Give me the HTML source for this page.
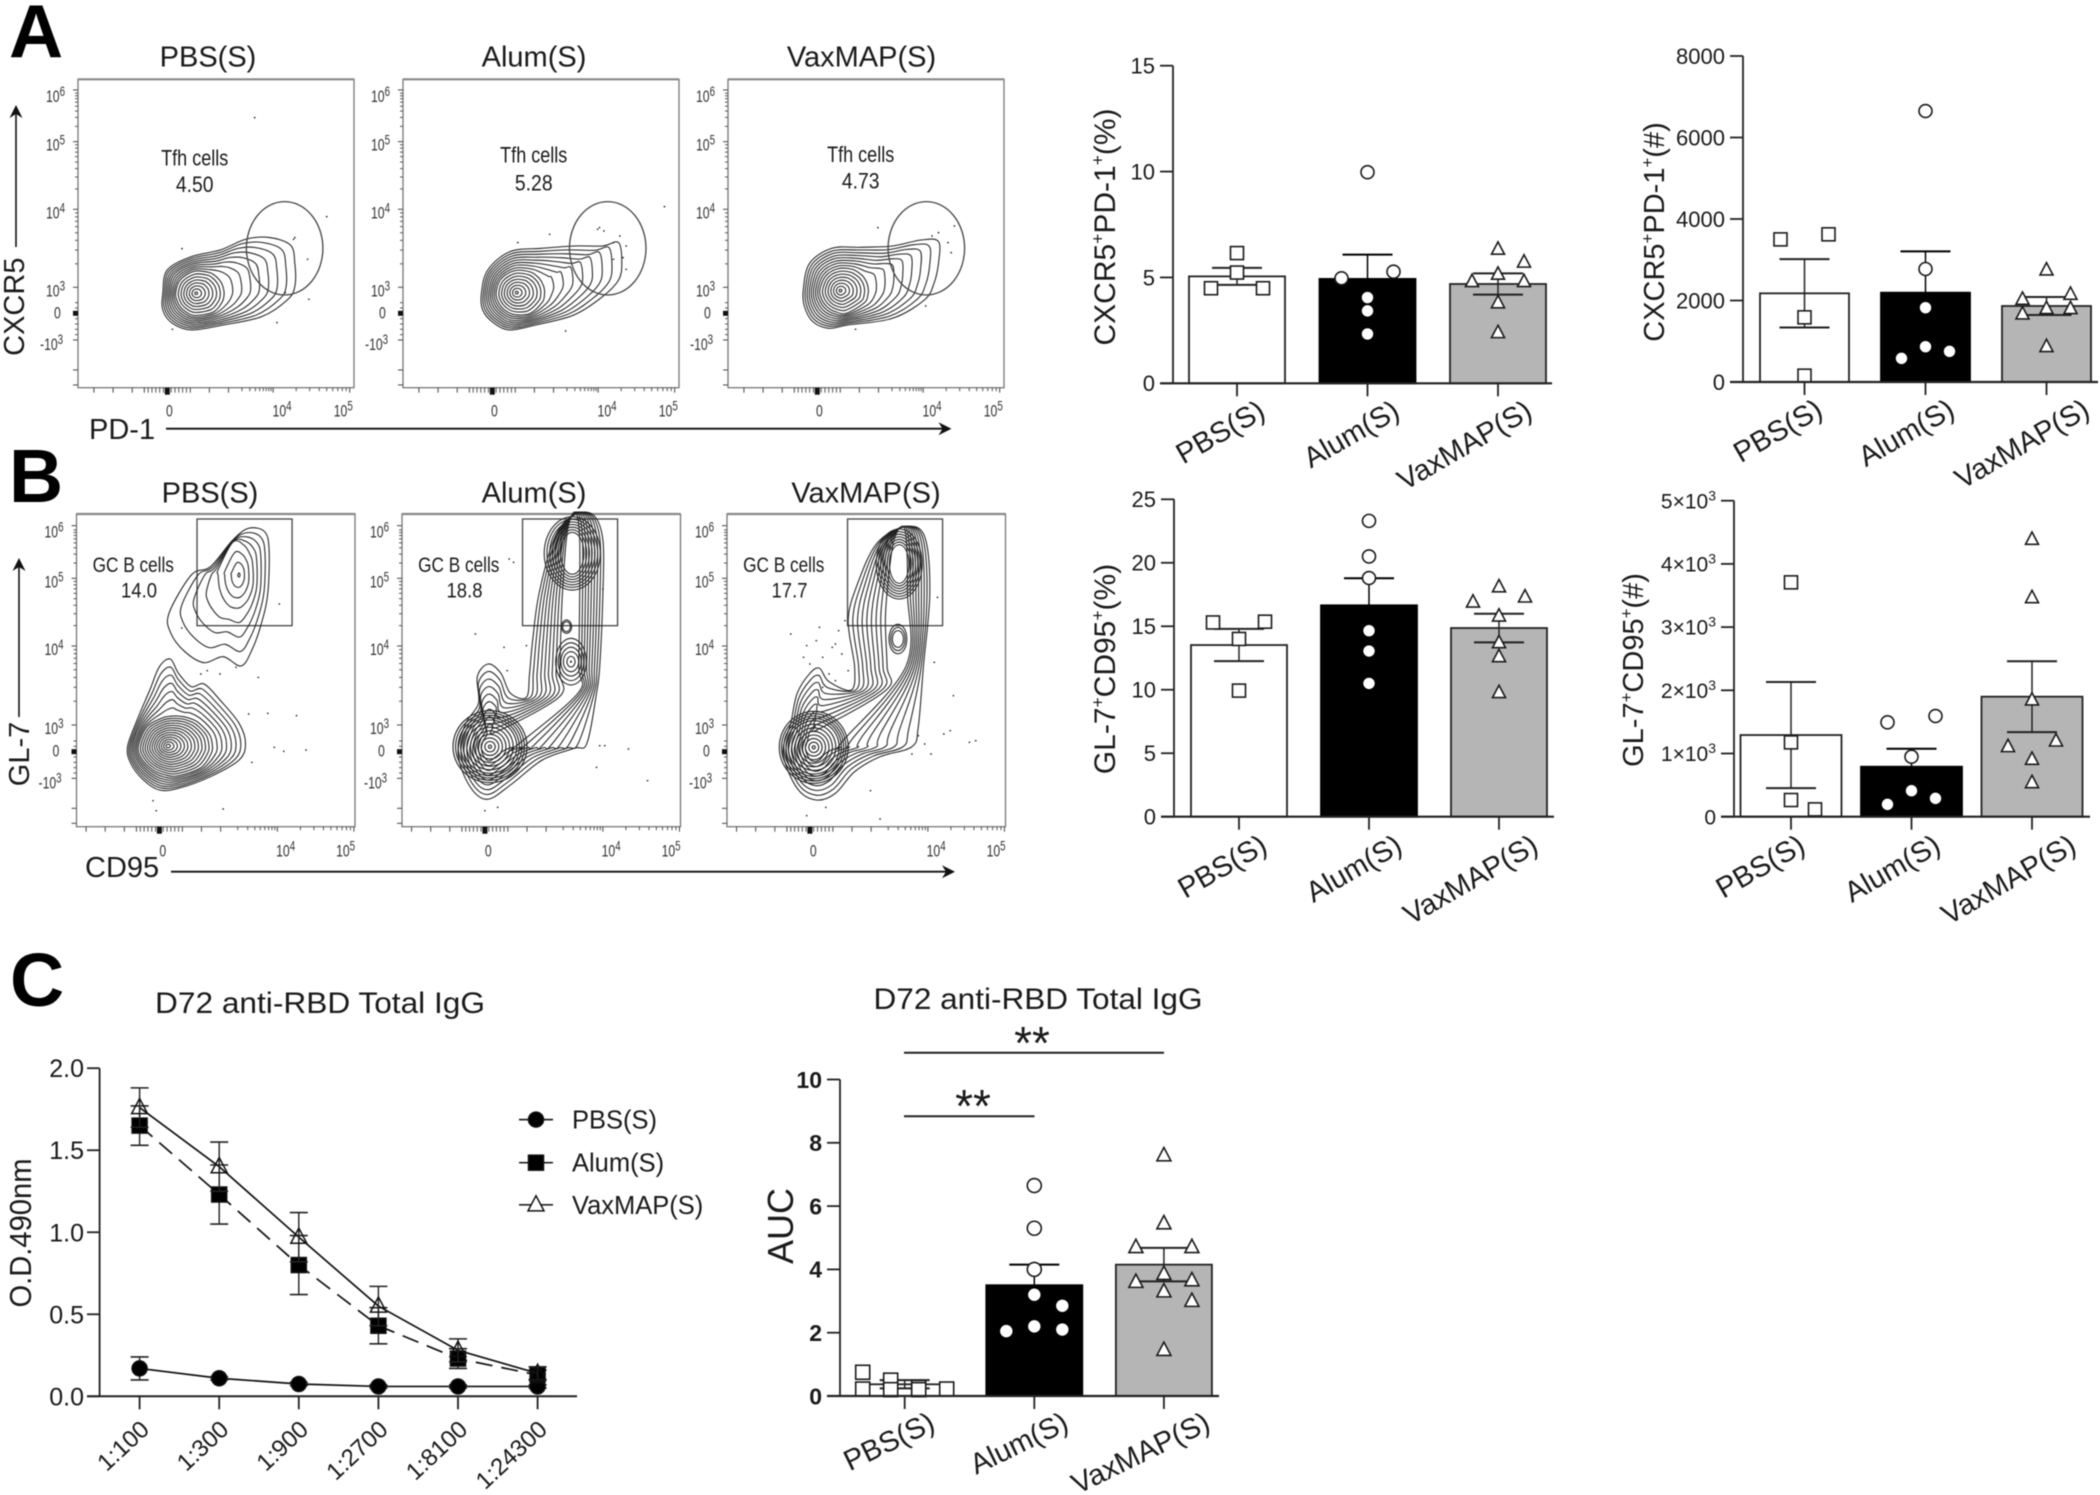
<!DOCTYPE html>
<html lang="en">
<head>
<meta charset="utf-8">
<title>Tfh and GC B cell responses</title>
<style>
html,body{margin:0;padding:0;background:#fff;}
#figure{display:block;width:2100px;height:1495px;filter:blur(.45px);font-family:"Liberation Sans",sans-serif;}
text{font-family:"Liberation Sans",sans-serif;fill:#1a1a1a;}
</style>
</head>
<body>
<svg id="figure" xmlns="http://www.w3.org/2000/svg" width="2100" height="1495" viewBox="0 0 2100 1495">
<rect width="2100" height="1495" fill="#fff"/>
<text x="9" y="57" font-size="75" font-weight="700" style="fill:#000">A</text>
<text x="9" y="502" font-size="75" font-weight="700" style="fill:#000">B</text>
<text x="10" y="1006" font-size="75" font-weight="700" style="fill:#000">C</text>
</svg>
<script>
/* ---------- chart values ---------- */
const groupLabels = ['PBS(S)', 'Alum(S)', 'VaxMAP(S)'];

const tfhPctTicks = [0, 5, 10, 15];
const tfhPctMeans = [5.05, 4.93, 4.69];
const tfhPctSem = [0.4, 1.15, 0.5];
const tfhPctPbs = [6.15, 5.23, 4.49, 4.49];
const tfhPctAlum = [9.97, 5.27, 4.96, 4.05, 3.42, 2.33];
const tfhPctVax = [6.33, 5.72, 5.15, 4.8, 4.8, 3.8, 2.39];

const tfhCountTicks = [0, 2000, 4000, 6000, 8000];
const tfhCountMeans = [2176, 2192, 1865];
const tfhCountSem = [840, 1015, 220];
const tfhCountPbs = [3624, 3500, 1587, 155];
const tfhCountAlum = [6650, 2773, 1824, 867, 752, 580];
const tfhCountVax = [2748, 2151, 2029, 1800, 1800, 1668, 867];

const gcPctTicks = [0, 5, 10, 15, 20, 25];
const gcPctMeans = [13.52, 16.65, 14.86];
const gcPctSem = [1.27, 2.13, 1.13];
const gcPctPbs = [15.36, 15.3, 14.0, 9.93];
const gcPctAlum = [23.3, 20.5, 18.8, 14.65, 13.05, 10.5];
const gcPctVax = [18.1, 17.3, 16.9, 15.8, 13.7, 12.6, 9.77];

const gcCountTicks = [0, 1000, 2000, 3000, 4000, 5000];
const gcCountTickLabels = ['0', '1×10', '2×10', '3×10', '4×10', '5×10'];
const gcCountMeans = [1292, 791, 1899];
const gcCountSem = [840, 285, 560];
const gcCountPbs = [3708, 1176, 264, 116];
const gcCountAlum = [1593, 1493, 949, 411, 290, 195];
const gcCountVax = [4388, 3465, 1846, 1197, 1108, 907, 538];

const aucTicks = [0, 2, 4, 6, 8, 10];
const aucMeans = [0.37, 3.5, 4.15];
const aucSem = [0.13, 0.65, 0.53];
const aucPbs = [0.75, 0.5, 0.27, 0.22, 0.22, 0.2, 0.2];
const aucAlum = [6.65, 5.3, 4.0, 3.2, 2.85, 2.2, 2.1, 2.05];
const aucVax = [7.6, 5.45, 4.7, 4.7, 3.85, 3.65, 3.6, 3.3, 3.0, 1.45];

const dilutions = ['1:100', '1:300', '1:900', '1:2700', '1:8100', '1:24300'];
const odTicks = [0, 0.5, 1, 1.5, 2];
const odTickLabels = ['0.0', '0.5', '1.0', '1.5', '2.0'];
const odPbs = [0.17, 0.11, 0.075, 0.06, 0.06, 0.06];
const odPbsErr = [0.07, 0.01, 0.01, 0.01, 0.01, 0.01];
const odAlum = [1.65, 1.23, 0.8, 0.43, 0.23, 0.13];
const odAlumErr = [0.12, 0.18, 0.18, 0.11, 0.06, 0.03];
const odVax = [1.76, 1.4, 0.97, 0.55, 0.28, 0.14];
const odVaxErr = [0.12, 0.15, 0.15, 0.12, 0.07, 0.04];

/* flow-cytometry outlines and events, in cytometer channel units */
const tfhPbsContour = [[133,642],[140,572],[178,532],[223,512],[263,480],[298,474],[333,497],[340,552],[340,622],[328,662],[288,712],[228,737],[178,752],[148,732],[133,692]];
const tfhAlumContour = [[123,642],[133,572],[168,517],[218,507],[268,500],[313,500],[338,490],[343,552],[338,602],[313,652],[268,707],[208,737],[168,752],[143,732],[125,692]];
const tfhVaxContour = [[118,632],[128,552],[163,507],[208,504],[258,500],[303,482],[330,487],[330,552],[323,612],[308,662],[258,717],[188,737],[158,747],[133,727],[120,682]];
const gcPbsLowerContour = [[80,698],[95,618],[115,528],[130,458],[147,435],[160,478],[180,518],[200,510],[225,558],[255,628],[265,688],[255,738],[210,788],[160,823],[130,828],[105,798],[85,748]];
const gcPbsUpperContour = [[145,298],[180,183],[210,158],[245,78],[270,43],[295,53],[302,108],[300,238],[290,328],[275,408],[258,456],[230,428],[200,446],[170,413],[148,358]];
const gcAlumContour = [[133,856],[105,813],[88,718],[100,628],[120,568],[118,488],[135,450],[155,478],[170,538],[195,550],[200,478],[205,378],[215,238],[240,68],[270,3],[300,3],[315,78],[315,238],[310,458],[305,538],[290,688],[270,703],[220,738],[170,813]];
const gcVaxContour = [[140,858],[110,823],[88,718],[100,628],[110,538],[130,478],[145,463],[160,503],[195,528],[200,458],[190,318],[205,208],[235,88],[280,38],[310,68],[318,238],[308,458],[300,638],[290,698],[240,728],[200,773],[170,838]];
const tfhPbsEvents = [[277,115],[390,412],[163,508],[338,480],[362,660],[312,730],[360,540],[340,475],[148,750],[325,640]];
const tfhAlumEvents = [[410,382],[305,450],[315,455],[308,445],[330,490],[340,470],[350,500],[330,540],[345,535],[350,570],[255,755],[180,490],[230,465]];
const tfhVaxEvents = [[235,445],[320,470],[345,490],[350,520],[310,680],[200,750],[330,460],[355,440]];
const gcPbsEvents = [[165,342],[195,480],[205,470],[225,480],[250,460],[285,490],[300,598],[345,605],[360,708],[310,700],[325,712],[125,890],[230,885],[120,860],[270,600],[318,270],[275,745]];
const gcAlumEvents = [[115,360],[175,145],[168,135],[165,470],[160,400],[195,395],[310,695],[318,695],[355,705],[305,760],[385,800],[130,890],[150,880],[315,225]];
const gcVaxEvents = [[100,360],[120,430],[130,450],[150,430],[165,400],[175,350],[185,320],[140,380],[160,480],[170,500],[180,420],[145,340],[125,395],[190,470],[150,520],[170,390],[330,250],[325,445],[355,545],[340,660],[350,650],[380,685],[390,680],[300,665],[310,690],[290,720],[320,720],[155,880],[125,905],[225,830],[240,915]];

/* ---------- helpers ---------- */
const SVGNS = 'http://www.w3.org/2000/svg';
const root = document.getElementById('figure');

function mk(parent, tag, attrs, name, interactable) {
  const el = document.createElementNS(SVGNS, tag);
  for (const k in attrs) el.setAttribute(k, attrs[k]);
  
  
  parent.appendChild(el);
  return el;
}
function txt(parent, str, attrs, name) {
  const el = mk(parent, 'text', attrs, name, false);
  el.textContent = str;
  return el;
}
/* text with superscript parts: parts = [['CXCR5',0],['+',1],...] */
function supText(parent, parts, attrs, name, supSize, rise) {
  const el = mk(parent, 'text', attrs, name, false);
  let up = false;
  parts.forEach(function (p) {
    const t = document.createElementNS(SVGNS, 'tspan');
    t.textContent = p[0];
    if (p[1]) {
      t.setAttribute('font-size', supSize);
      t.setAttribute('dy', -rise);
      up = true;
    } else if (up) {
      t.setAttribute('dy', rise);
      up = false;
    }
    el.appendChild(t);
  });
  return el;
}
function line(parent, x1, y1, x2, y2, stroke, width, name, dash) {
  const a = {x1: x1, y1: y1, x2: x2, y2: y2, stroke: stroke, 'stroke-width': width};
  if (dash) a['stroke-dasharray'] = dash;
  return mk(parent, 'line', a, name, false);
}
function marker(parent, kind, x, y, size, fill, stroke, sw, name) {
  if (kind === 'circle') {
    return mk(parent, 'circle', {cx: x, cy: y, r: size / 2, fill: fill, stroke: stroke, 'stroke-width': sw}, name, false);
  }
  if (kind === 'square') {
    return mk(parent, 'rect', {x: x - size / 2, y: y - size / 2, width: size, height: size, fill: fill, stroke: stroke, 'stroke-width': sw}, name, false);
  }
  const h = size * 0.95;
  const pts = (x) + ',' + (y - h * 0.6) + ' ' + (x + size / 2) + ',' + (y + h * 0.4) + ' ' + (x - size / 2) + ',' + (y + h * 0.4);
  return mk(parent, 'polygon', {points: pts, fill: fill, stroke: stroke, 'stroke-width': sw, 'stroke-linejoin': 'miter'}, name, false);
}

/* Column placement similar to a scatter-dot plot: nearby values share a row. */
function swarmColumns(values, pxPerUnit) {
  const order = values.map(function (v, i) { return [v, i]; }).sort(function (a, b) { return b[0] - a[0]; });
  const rows = [];
  order.forEach(function (o) {
    const last = rows[rows.length - 1];
    if (last && (last[last.length - 1][0] - o[0]) * pxPerUnit < 8) last.push(o);
    else rows.push([o]);
  });
  const placed = [];
  const cols = new Array(values.length);
  rows.forEach(function (row) {
    const n = row.length;
    row.forEach(function (o, k) {
      let c;
      if (n > 5) c = [-1.5, -0.5, 0.5, 1.5][k % 4];
      else if (n % 2 === 0) c = (k % 2 === 0 ? 1 : -1) * (Math.floor(k / 2) + 1);
      else c = k === 0 ? 0 : (k % 2 === 1 ? 1 : -1) * Math.ceil(k / 2);
      if (n === 1) {
        const hit = placed.some(function (p) { return p[1] === c && (p[0] - o[0]) * pxPerUnit < 13; });
        if (hit) c = 1;
      }
      placed.push([o[0], c]);
      cols[o[1]] = c;
    });
  });
  return cols;
}

/* ---------- bar charts ---------- */
const barFills = ['#ffffff', '#000000', '#b5b5b5'];
const markerKinds = ['square', 'circle', 'triangle'];

function drawBarChart(cfg) {
  const g = mk(root, 'g', {}, cfg.name, false);
  const y = function (v) { return cfg.yBase - v / cfg.max * (cfg.yBase - cfg.yTop); };
  const xc = function (i) { return cfg.center0 + i * cfg.step; };
  const pxPerUnit = (cfg.yBase - cfg.yTop) / cfg.max;

  cfg.means.forEach(function (m, i) {
    const top = y(m);
    mk(g, 'rect', {x: xc(i) - cfg.barW / 2, y: top, width: cfg.barW, height: cfg.yBase - top, fill: barFills[i], stroke: i === 1 ? '#000' : '#222', 'stroke-width': 1.8}, 'bar-' + groupLabels[i].toLowerCase().replace(/[()]/g, ''), false);
  });
  cfg.means.forEach(function (m, i) {
    const hi = y(m + cfg.sem[i]);
    const lo = y(m - cfg.sem[i]);
    const col = i === 1 ? '#000' : '#222';
    line(g, xc(i), hi, xc(i), lo, col, 1.5, 'error-stem');
    line(g, xc(i) - 25, hi, xc(i) + 25, hi, col, 2, 'error-cap-upper');
    line(g, xc(i) - 25, lo, xc(i) + 25, lo, col, 2, 'error-cap-lower');
  });
  cfg.points.forEach(function (vals, i) {
    const cols = swarmColumns(vals, pxPerUnit);
    vals.forEach(function (v, k) {
      const fill = '#fff';
      const stroke = i === 1 && v < cfg.means[1] ? '#000' : '#1a1a1a';
      marker(g, markerKinds[i], xc(i) + cols[k] * cfg.slot, y(v), cfg.markerSize, fill, stroke, 1.6, 'data-point');
    });
  });

  line(g, cfg.axisX, cfg.yTop, cfg.axisX, cfg.yBase, '#222', 1.8, 'y-axis-line');
  line(g, cfg.axisX - 13, cfg.yBase, cfg.xEnd, cfg.yBase, '#222', 2.2, 'x-axis-line');
  cfg.ticks.forEach(function (t, i) {
    line(g, cfg.axisX - 13, y(t), cfg.axisX, y(t), '#222', 1.8, 'y-tick');
    const a = {x: cfg.axisX - 18, y: y(t) + cfg.tickSize * 0.36, 'font-size': cfg.tickSize, 'text-anchor': 'end'};
    if (cfg.boldTicks) a['font-weight'] = '700';
    if (cfg.tickLabels) {
      const lab = cfg.tickLabels[i];
      if (lab.indexOf('×') >= 0) supText(g, [[lab, 0], ['3', 1]], a, 'y-tick-label', 14, 8);
      else txt(g, lab, a, 'y-tick-label');
    } else {
      txt(g, String(t), a, 'y-tick-label');
    }
  });
  groupLabels.forEach(function (lab, i) {
    line(g, xc(i), cfg.yBase, xc(i), cfg.yBase + 13, '#222', 1.8, 'x-tick');
    const ax = xc(i) + cfg.labelDx + cfg.labelShift[i];
    const ay = cfg.yBase + cfg.labelDy;
    txt(g, lab, {x: 0, y: 0, 'font-size': cfg.labelSize, 'text-anchor': 'end', transform: 'translate(' + ax + ',' + ay + ') rotate(' + cfg.labelAngle + ')'}, 'x-tick-label');
  });
  const lx = cfg.yLabel.x;
  const ly = cfg.yLabel.y;
  supText(g, cfg.yLabel.parts, {x: 0, y: 0, 'font-size': cfg.yLabel.size, 'text-anchor': 'middle', transform: 'translate(' + lx + ',' + ly + ') rotate(-90)'}, 'y-axis-title', cfg.yLabel.size * 0.58, cfg.yLabel.size * 0.38);
  return g;
}

drawBarChart({name: 'chart-tfh-percent', axisX: 1173, yTop: 65.7, yBase: 383.3, max: 15, xEnd: 1552, center0: 1237, step: 130.5, barW: 96, slot: 26, markerSize: 13,
  ticks: tfhPctTicks, tickSize: 22, means: tfhPctMeans, sem: tfhPctSem, points: [tfhPctPbs, tfhPctAlum, tfhPctVax],
  labelSize: 29, labelAngle: -30, labelDx: 30, labelDy: 33, labelShift: [0, 4, 6],
  yLabel: {x: 1115, y: 227, size: 30, parts: [['CXCR5', 0], ['+', 1], ['PD-1', 0], ['+', 1], ['(%)', 0]]}});
drawBarChart({name: 'chart-tfh-count', axisX: 1743, yTop: 56, yBase: 382, max: 8000, xEnd: 2098, center0: 1804.5, step: 121, barW: 89, slot: 24, markerSize: 13,
  ticks: tfhCountTicks, tickSize: 22, means: tfhCountMeans, sem: tfhCountSem, points: [tfhCountPbs, tfhCountAlum, tfhCountVax],
  labelSize: 29, labelAngle: -30, labelDx: 30, labelDy: 33, labelShift: [-10, 1, 15],
  yLabel: {x: 1664, y: 232, size: 29, parts: [['CXCR5', 0], ['+', 1], ['PD-1', 0], ['+', 1], ['(#)', 0]]}});
drawBarChart({name: 'chart-gc-percent', axisX: 1174, yTop: 499.3, yBase: 816.7, max: 25, xEnd: 1554, center0: 1239, step: 130, barW: 96, slot: 26, markerSize: 13,
  ticks: gcPctTicks, tickSize: 22, means: gcPctMeans, sem: gcPctSem, points: [gcPctPbs, gcPctAlum, gcPctVax],
  labelSize: 29, labelAngle: -30, labelDx: 30, labelDy: 34, labelShift: [0, 5, 11],
  yLabel: {x: 1115, y: 669, size: 30, parts: [['GL-7', 0], ['+', 1], ['CD95', 0], ['+', 1], ['(%)', 0]]}});
drawBarChart({name: 'chart-gc-count', axisX: 1734, yTop: 500.7, yBase: 816.7, max: 5000, xEnd: 2090, center0: 1791, step: 120.5, barW: 101, slot: 24, markerSize: 13,
  ticks: gcCountTicks, tickLabels: gcCountTickLabels, tickSize: 21, means: gcCountMeans, sem: gcCountSem, points: [gcCountPbs, gcCountAlum, gcCountVax],
  labelSize: 29, labelAngle: -30, labelDx: 30, labelDy: 34, labelShift: [-14, 1, 16],
  yLabel: {x: 1643, y: 670, size: 29, parts: [['GL-7', 0], ['+', 1], ['CD95', 0], ['+', 1], ['(#)', 0]]}});
drawBarChart({name: 'chart-auc', axisX: 840, yTop: 1079.5, yBase: 1396, max: 10, xEnd: 1219, center0: 904.7, step: 129.6, barW: 96, slot: 28, markerSize: 14,
  ticks: aucTicks, tickSize: 23, boldTicks: true, means: aucMeans, sem: aucSem, points: [aucPbs, aucAlum, aucVax],
  labelSize: 29, labelAngle: -26, labelDx: 30, labelDy: 33, labelShift: [2, 6, 18],
  yLabel: {x: 793, y: 1226, size: 36, parts: [['AUC', 0]]}});

const aucExtras = mk(root, 'g', {}, 'auc-annotations', false);
txt(aucExtras, 'D72 anti-RBD Total IgG', {x: 1038, y: 1009, 'font-size': 30, 'text-anchor': 'middle', textLength: 329, lengthAdjust: 'spacingAndGlyphs'}, 'auc-chart-title');
line(aucExtras, 904, 1052.7, 1164, 1052.7, '#222', 2, 'significance-bar-pbs-vaxmap');
line(aucExtras, 904, 1116.3, 1034.5, 1116.3, '#222', 2, 'significance-bar-pbs-alum');
txt(aucExtras, '**', {x: 1032, y: 1059, 'font-size': 46, 'text-anchor': 'middle'}, 'significance-stars-pbs-vaxmap');
txt(aucExtras, '**', {x: 973, y: 1122, 'font-size': 46, 'text-anchor': 'middle'}, 'significance-stars-pbs-alum');

/* ---------- dilution line chart ---------- */
(function () {
  const g = mk(root, 'g', {}, 'chart-od-dilution', false);
  const axisX = 99.6;
  const yTop = 1068.2;
  const yBase = 1396.3;
  const x = function (i) { return 139.6 + i * 79.6; };
  const y = function (v) { return yBase - v / 2 * (yBase - yTop); };

  txt(g, 'D72 anti-RBD Total IgG', {x: 320, y: 1013, 'font-size': 30, 'text-anchor': 'middle', textLength: 330, lengthAdjust: 'spacingAndGlyphs'}, 'line-chart-title');
  line(g, axisX, yTop, axisX, yBase, '#222', 1.8, 'y-axis-line');
  line(g, 87, yBase, 577, yBase, '#222', 2, 'x-axis-line');
  odTicks.forEach(function (t, i) {
    line(g, 87, y(t), axisX, y(t), '#222', 1.8, 'y-tick');
    txt(g, odTickLabels[i], {x: 84, y: y(t) + 9, 'font-size': 25, 'text-anchor': 'end'}, 'y-tick-label');
  });
  dilutions.forEach(function (d, i) {
    line(g, x(i), yBase, x(i), yBase + 13, '#222', 1.8, 'x-tick');
    const ax = x(i) + 11;
    const ay = yBase + 35;
    txt(g, d, {x: 0, y: 0, 'font-size': 24, 'text-anchor': 'end', transform: 'translate(' + ax + ',' + ay + ') rotate(-43)'}, 'x-tick-label');
  });
  txt(g, 'O.D.490nm', {x: 0, y: 0, 'font-size': 31, 'text-anchor': 'middle', textLength: 149, lengthAdjust: 'spacingAndGlyphs', transform: 'translate(31,1233) rotate(-90)'}, 'y-axis-title');

  const series = [
    {name: 'pbs', vals: odPbs, err: odPbsErr, kind: 'circle', size: 15, fill: '#000', dash: null},
    {name: 'alum', vals: odAlum, err: odAlumErr, kind: 'square', size: 15, fill: '#000', dash: '17 9'},
    {name: 'vaxmap', vals: odVax, err: odVaxErr, kind: 'triangle', size: 16, fill: 'none', dash: null}
  ];
  series.forEach(function (s) {
    const sg = mk(g, 'g', {}, 'series-' + s.name, false);
    const a = {points: s.vals.map(function (v, i) { return x(i) + ',' + y(v); }).join(' '), fill: 'none', stroke: '#111', 'stroke-width': 1.7};
    if (s.dash) a['stroke-dasharray'] = s.dash;
    mk(sg, 'polyline', a, 'series-line', false);
    s.vals.forEach(function (v, i) {
      const hi = y(v + s.err[i]);
      const lo = y(v - s.err[i]);
      line(sg, x(i), hi, x(i), lo, '#222', 1.4, 'error-stem');
      line(sg, x(i) - 9, hi, x(i) + 9, hi, '#222', 1.6, 'error-cap-upper');
      line(sg, x(i) - 9, lo, x(i) + 9, lo, '#222', 1.6, 'error-cap-lower');
      marker(sg, s.kind, x(i), y(v), s.size, s.fill, '#111', 1.5, 'series-point');
    });
  });

  const legendYs = [1119.6, 1162.7, 1204.8];
  series.forEach(function (s, i) {
    const lg = mk(g, 'g', {}, 'legend-entry-' + s.name, false);
    line(lg, 519, legendYs[i], 553, legendYs[i], '#222', 1.7, 'legend-line');
    marker(lg, s.kind, 536, legendYs[i], s.size, s.fill === 'none' ? '#fff' : s.fill, '#111', 1.5, 'legend-marker');
    txt(lg, groupLabels[i], {x: 572, y: legendYs[i] + 9, 'font-size': 25.5}, 'legend-label');
  });
})();

/* ---------- flow cytometry panels ---------- */
const FX = 1.568;
const FY = 3;

function lerp(a, b, t) { return [a[0] + (b[0] - a[0]) * t, a[1] + (b[1] - a[1]) * t]; }
function towardEllipse(outer, c, rx, ry) {
  return outer.map(function (p) {
    const dx = p[0] - c[0];
    const dy = p[1] - c[1];
    const k = 1 / Math.sqrt(dx * dx / (rx * rx) + dy * dy / (ry * ry));
    return [c[0] + dx * k, c[1] + dy * k];
  });
}
function ringPoints(c, rx, ry, n) {
  const out = [];
  for (let i = 0; i < n; i++) {
    const a = i / n * Math.PI * 2;
    out.push([c[0] + rx * Math.cos(a), c[1] + ry * Math.sin(a)]);
  }
  return out;
}
function closedSpline(pts) {
  const n = pts.length;
  let d = 'M' + pts[0][0].toFixed(1) + ' ' + pts[0][1].toFixed(1);
  for (let i = 0; i < n; i++) {
    const p0 = pts[(i - 1 + n) % n];
    const p1 = pts[i];
    const p2 = pts[(i + 1) % n];
    const p3 = pts[(i + 2) % n];
    const c1x = p1[0] + (p2[0] - p0[0]) / 6;
    const c1y = p1[1] + (p2[1] - p0[1]) / 6;
    const c2x = p2[0] - (p3[0] - p1[0]) / 6;
    const c2y = p2[1] - (p3[1] - p1[1]) / 6;
    d += 'C' + c1x.toFixed(1) + ' ' + c1y.toFixed(1) + ' ' + c2x.toFixed(1) + ' ' + c2y.toFixed(1) + ' ' + p2[0].toFixed(1) + ' ' + p2[1].toFixed(1);
  }
  return d + 'Z';
}
function drawContours(parent, panel, outer, inner, center, nA, nB, width) {
  const fam = mk(parent, 'g', {fill: 'none', stroke: '#222', 'stroke-width': width || 1.05}, 'contour-group', false);
  const toPx = function (p) { return [panel.left + p[0] / FX, panel.top + p[1] / FY]; };
  const emit = function (pts) {
    mk(fam, 'path', {d: closedSpline(pts.map(toPx))}, 'contour-line', false);
  };
  for (let i = 0; i < nA; i++) {
    const t = i / nA;
    emit(outer.map(function (p, k) { return lerp(p, inner[k], t); }));
  }
  if (center) {
    for (let j = 0; j < nB; j++) {
      const s = 1 - 0.94 * j / (nB - 1 || 1);
      emit(inner.map(function (p) { return lerp(center, p, s); }));
    }
  }
}
function spineTargets(outer, colX, breakV, cluster) {
  return outer.map(function (p) {
    return (p[1] < breakV && p[0] > 180) ? lerp(p, [colX, p[1]], 0.82) : lerp(p, cluster, 0.82);
  });
}

function flowLabel(g, x, y, base, sup, size, scale, name) {
  const el = supText(g, sup ? [[base, 0], [sup, 1]] : [[base, 0]], {x: 0, y: 0, 'font-size': size, transform: 'translate(' + x + ',' + y + ') scale(' + scale + ',1)', style: 'fill:#333'}, name, size * 0.8, 6);
  return el;
}

function drawFlowFrame(p) {
  const g = p.g;
  const right = p.left + p.width;
  const bottom = p.top + p.height;
  mk(g, 'rect', {x: p.left, y: p.top, width: p.width, height: p.height, fill: 'none', stroke: '#777', 'stroke-width': 1.3}, 'plot-frame', false);
  line(g, p.left, p.top, right, p.top, '#888', 2.2, 'plot-frame-top');

  const dec = p.yMarks;
  const yy = function (v) { return p.top + v / FY; };
  const xx = function (u) { return p.left + u / FX; };
  const logs = [2, 3, 4, 5, 6, 7, 8, 9];
  [[dec.e5, dec.e4], [dec.e4, dec.e3]].forEach(function (pair) {
    logs.forEach(function (k) {
      const v = pair[1] + (pair[0] - pair[1]) * Math.log10(k);
      line(g, p.left - 3, yy(v), p.left, yy(v), '#555', 1, 'y-minor-tick');
    });
  });
  logs.forEach(function (k) {
    const v = dec.e5 + (dec.e5 - dec.e4) * Math.log10(k) * 0.75;
    if (v > 3) line(g, p.left - 3, yy(v), p.left, yy(v), '#555', 1, 'y-minor-tick');
  });
  [dec.e6, dec.e5, dec.e4, dec.e3, dec.zero, dec.neg, dec.neg + 90, dec.neg + 135].forEach(function (v) {
    line(g, p.left - 5, yy(v), p.left, yy(v), '#555', 1.1, 'y-major-tick');
  });
  [-2, -1, 1, 2, 3, 4].forEach(function (k) {
    line(g, p.left - 3, yy(dec.zero + k * 16), p.left, yy(dec.zero + k * 16), '#555', 1, 'y-minor-tick');
  });
  mk(g, 'rect', {x: p.left - 5, y: yy(dec.zero) - 2.5, width: 5, height: 5, fill: '#111'}, 'y-zero-mark', false);

  const xm = p.xMarks;
  [xm.zero - 115, xm.zero - 85, xm.zero - 55, xm.zero - 36, xm.zero + 36, xm.zero + 66, xm.zero + 96, xm.e4, xm.e5].forEach(function (u) {
    line(g, xx(u), bottom, xx(u), bottom + 5, '#555', 1.1, 'x-major-tick');
  });
  [[xm.zero + 96, xm.e4], [xm.e4, xm.e5]].forEach(function (pair) {
    logs.forEach(function (k) {
      const u = pair[0] + (pair[1] - pair[0]) * Math.log10(k);
      line(g, xx(u), bottom, xx(u), bottom + 3.5, '#555', 1, 'x-minor-tick');
    });
  });
  [-30, -24, -18, -12, -6, 6, 12, 18, 24, 30].forEach(function (k) {
    line(g, xx(xm.zero + k), bottom, xx(xm.zero + k), bottom + 5, '#555', 1, 'x-minor-tick');
  });
  mk(g, 'rect', {x: xx(xm.zero) - 2.5, y: bottom, width: 5, height: 7, fill: '#111'}, 'x-zero-mark', false);

  const lx = p.left - 32;
  flowLabel(g, lx, yy(dec.e6) + 12, '10', '6', 17, 0.72, 'y-tick-label');
  flowLabel(g, lx, yy(dec.e5) + 9, '10', '5', 17, 0.72, 'y-tick-label');
  flowLabel(g, lx, yy(dec.e4) + 9, '10', '4', 17, 0.72, 'y-tick-label');
  flowLabel(g, lx, yy(dec.e3) + 9, '10', '3', 17, 0.72, 'y-tick-label');
  flowLabel(g, lx + 8, yy(dec.zero) + 5, '0', '', 17, 0.72, 'y-tick-label');
  flowLabel(g, lx - 6, yy(dec.neg) + 10, '-10', '3', 17, 0.72, 'y-tick-label');

  const ly = bottom + p.xLabelDy;
  flowLabel(g, xx(xm.zeroLabel), ly, '0', '', 17, 0.72, 'x-tick-label');
  flowLabel(g, xx(xm.e4Label), ly, '10', '4', 17, 0.72, 'x-tick-label');
  flowLabel(g, xx(xm.e5Label), ly, '10', '5', 17, 0.72, 'x-tick-label');
}
function drawEvents(g, p, events) {
  events.forEach(function (e) {
    mk(g, 'circle', {cx: p.left + e[0] / FX, cy: p.top + e[1] / FY, r: 0.85, fill: '#222'}, 'event-dot', false);
  });
}
function makePanel(name, left, top, width, height, yMarks, xMarks, xLabelDy) {
  const g = mk(root, 'g', {}, name, false);
  return {g: g, left: left, top: top, width: width, height: height, yMarks: yMarks, xMarks: xMarks, xLabelDy: xLabelDy};
}
function panelCaption(p, title, titleX, titleY, gate, gateU, gateV, valU, valV, value, size) {
  txt(p.g, title, {x: titleX, y: titleY, 'font-size': 29, 'text-anchor': 'middle'}, 'plot-title');
  txt(p.g, gate, {x: 0, y: 0, 'font-size': size, 'text-anchor': 'middle', transform: 'translate(' + (p.left + gateU / FX) + ',' + (p.top + gateV / FY + 7) + ') scale(.82,1)'}, 'gate-name');
  txt(p.g, value, {x: 0, y: 0, 'font-size': size, 'text-anchor': 'middle', transform: 'translate(' + (p.left + valU / FX) + ',' + (p.top + valV / FY + 7) + ') scale(.88,1)'}, 'gate-frequency');
}

const tfhY = {e6: 32, e5: 187, e4: 390, e3: 624, zero: 702, neg: 782};
const tfhX = {zero: 140, e4: 306, e5: 426, zeroLabel: 138, e4Label: 305, e5Label: 401};
const gcY = {e6: 35, e5: 193, e4: 396, e3: 633, zero: 713, neg: 793};
const gcX = {zero: 130, e4: 315, e5: 435, zeroLabel: 130, e4Label: 313, e5Label: 407};

/* Panel A */
[
  {name: 'flow-tfh-pbs', left: 78, title: 'PBS(S)', tx: 208, contour: tfhPbsContour, c: [185, 642], ev: tfhPbsEvents, gate: [324, 507], tU: 183, tV: 237, vV: 317, val: '4.50'},
  {name: 'flow-tfh-alum', left: 403, title: 'Alum(S)', tx: 534, contour: tfhAlumContour, c: [178, 640], ev: tfhAlumEvents, gate: [321, 507], tU: 205, tV: 229, vV: 312, val: '5.28'},
  {name: 'flow-tfh-vaxmap', left: 728, title: 'VaxMAP(S)', tx: 861.5, contour: tfhVaxContour, c: [176, 634], ev: tfhVaxEvents, gate: [311, 507], tU: 208, tV: 227, vV: 307, val: '4.73'}
].forEach(function (d) {
  const p = makePanel(d.name, d.left, 79.3, 276, 308.4, tfhY, tfhX, 29);
  drawFlowFrame(p);
  drawEvents(p.g, p, d.ev);
  const shifted = [d.c[0] + 6, d.c[1]];
  drawContours(p.g, p, d.contour, towardEllipse(d.contour, shifted, 38, 68), d.c, 8, 8);
  mk(p.g, 'ellipse', {cx: p.left + d.gate[0] / FX, cy: p.top + d.gate[1] / FY, rx: 60 / FX, ry: 140 / FY, fill: 'none', stroke: '#444', 'stroke-width': 1.3}, 'tfh-gate', true);
  panelCaption(p, d.title, d.tx, 66.7, 'Tfh cells', d.tU, d.tV, d.tU, d.vV, d.val, 22);
});

/* Panel B */
const gcPanels = [
  {name: 'flow-gc-pbs', left: 76.5, title: 'PBS(S)', tx: 210, ev: gcPbsEvents, val: '14.0'},
  {name: 'flow-gc-alum', left: 402, title: 'Alum(S)', tx: 534, ev: gcAlumEvents, val: '18.8'},
  {name: 'flow-gc-vaxmap', left: 727, title: 'VaxMAP(S)', tx: 866, ev: gcVaxEvents, val: '17.7'}
].map(function (d) {
  const p = makePanel(d.name, d.left, 514, 278.5, 312.7, gcY, gcX, 30);
  drawFlowFrame(p);
  drawEvents(p.g, p, d.ev);
  panelCaption(p, d.title, d.tx, 502.7, 'GC B cells', 89, 153, 98, 230, d.val, 21);
  mk(p.g, 'rect', {x: p.left + 189 / FX, y: p.top + 15 / FY, width: 149 / FX, height: 320 / FY, fill: 'none', stroke: '#444', 'stroke-width': 1.3}, 'gc-gate', true);
  return p;
});

drawContours(gcPanels[0].g, gcPanels[0], gcPbsLowerContour, towardEllipse(gcPbsLowerContour, [155, 696], 58, 90), [143, 696], 7, 13);
drawContours(gcPanels[0].g, gcPanels[0], gcPbsUpperContour, towardEllipse(gcPbsUpperContour, [250, 183], 28, 100), [255, 183], 4, 4);

const alumSpine = spineTargets(gcAlumContour, 265, 570, [138, 698]);
drawContours(gcPanels[1].g, gcPanels[1], gcAlumContour, alumSpine, null, 9, 0);
const alumLower = ringPoints([138, 698], 58, 108, 16);
drawContours(gcPanels[1].g, gcPanels[1], alumLower, ringPoints([138, 698], 42, 80, 16), [138, 698], 4, 8, 1.1);
const alumTop = ringPoints([267, 118], 44, 110, 14);
drawContours(gcPanels[1].g, gcPanels[1], alumTop, ringPoints([267, 118], 14, 55, 14), null, 7, 0);
const alumMid = ringPoints([265, 443], 24, 70, 12);
drawContours(gcPanels[1].g, gcPanels[1], alumMid, ringPoints([265, 443], 12, 30, 12), [265, 443], 3, 3);
drawContours(gcPanels[1].g, gcPanels[1], ringPoints([258, 338], 8, 20, 10), ringPoints([258, 338], 4, 10, 10), null, 2, 0);

const vaxSpine = spineTargets(gcVaxContour, 270, 600, [136, 700]);
drawContours(gcPanels[2].g, gcPanels[2], gcVaxContour, vaxSpine, null, 9, 0);
const vaxLower = ringPoints([136, 700], 54, 108, 16);
drawContours(gcPanels[2].g, gcPanels[2], vaxLower, ringPoints([136, 700], 40, 80, 16), [136, 700], 4, 8, 1.1);
const vaxTop = ringPoints([270, 150], 36, 105, 14);
drawContours(gcPanels[2].g, gcPanels[2], vaxTop, ringPoints([270, 150], 12, 50, 14), null, 7, 0);
drawContours(gcPanels[2].g, gcPanels[2], ringPoints([268, 375], 14, 44, 12), ringPoints([268, 375], 6, 16, 12), null, 3, 0);

/* shared flow axis titles and arrows */
function flowAxis(nameBase, xTitle, xt, xtY, yTitle, ytX, ytY, ax0, ax1, axY, ayX, ay0, ay1) {
  const g = mk(root, 'g', {}, nameBase + '-axes', false);
  txt(g, xTitle, {x: xt, y: xtY, 'font-size': 29}, 'x-axis-title');
  txt(g, yTitle, {x: 0, y: 0, 'font-size': 29, 'text-anchor': 'middle', transform: 'translate(' + ytX + ',' + ytY + ') rotate(-90)'}, 'y-axis-title');
  line(g, ax0, axY, ax1 - 8, axY, '#111', 1.9, 'x-axis-arrow-line');
  mk(g, 'polygon', {points: ax1 + ',' + axY + ' ' + (ax1 - 13) + ',' + (axY - 6.5) + ' ' + (ax1 - 9) + ',' + axY + ' ' + (ax1 - 13) + ',' + (axY + 6.5), fill: '#111'}, 'x-axis-arrow-head', false);
  line(g, ayX, ay0, ayX, ay1 + 8, '#111', 1.6, 'y-axis-arrow-line');
  mk(g, 'polygon', {points: ayX + ',' + ay1 + ' ' + (ayX - 6.5) + ',' + (ay1 + 13) + ' ' + ayX + ',' + (ay1 + 9) + ' ' + (ayX + 6.5) + ',' + (ay1 + 13), fill: '#111'}, 'y-axis-arrow-head', false);
}
flowAxis('flow-tfh', 'PD-1', 89, 439, 'CXCR5', 24, 306.7, 166, 951.5, 428.7, 16, 247, 105);
flowAxis('flow-gc', 'CD95', 85, 877, 'GL-7', 29, 754, 171, 955, 871.7, 19, 717, 558);
</script>
</body>
</html>
